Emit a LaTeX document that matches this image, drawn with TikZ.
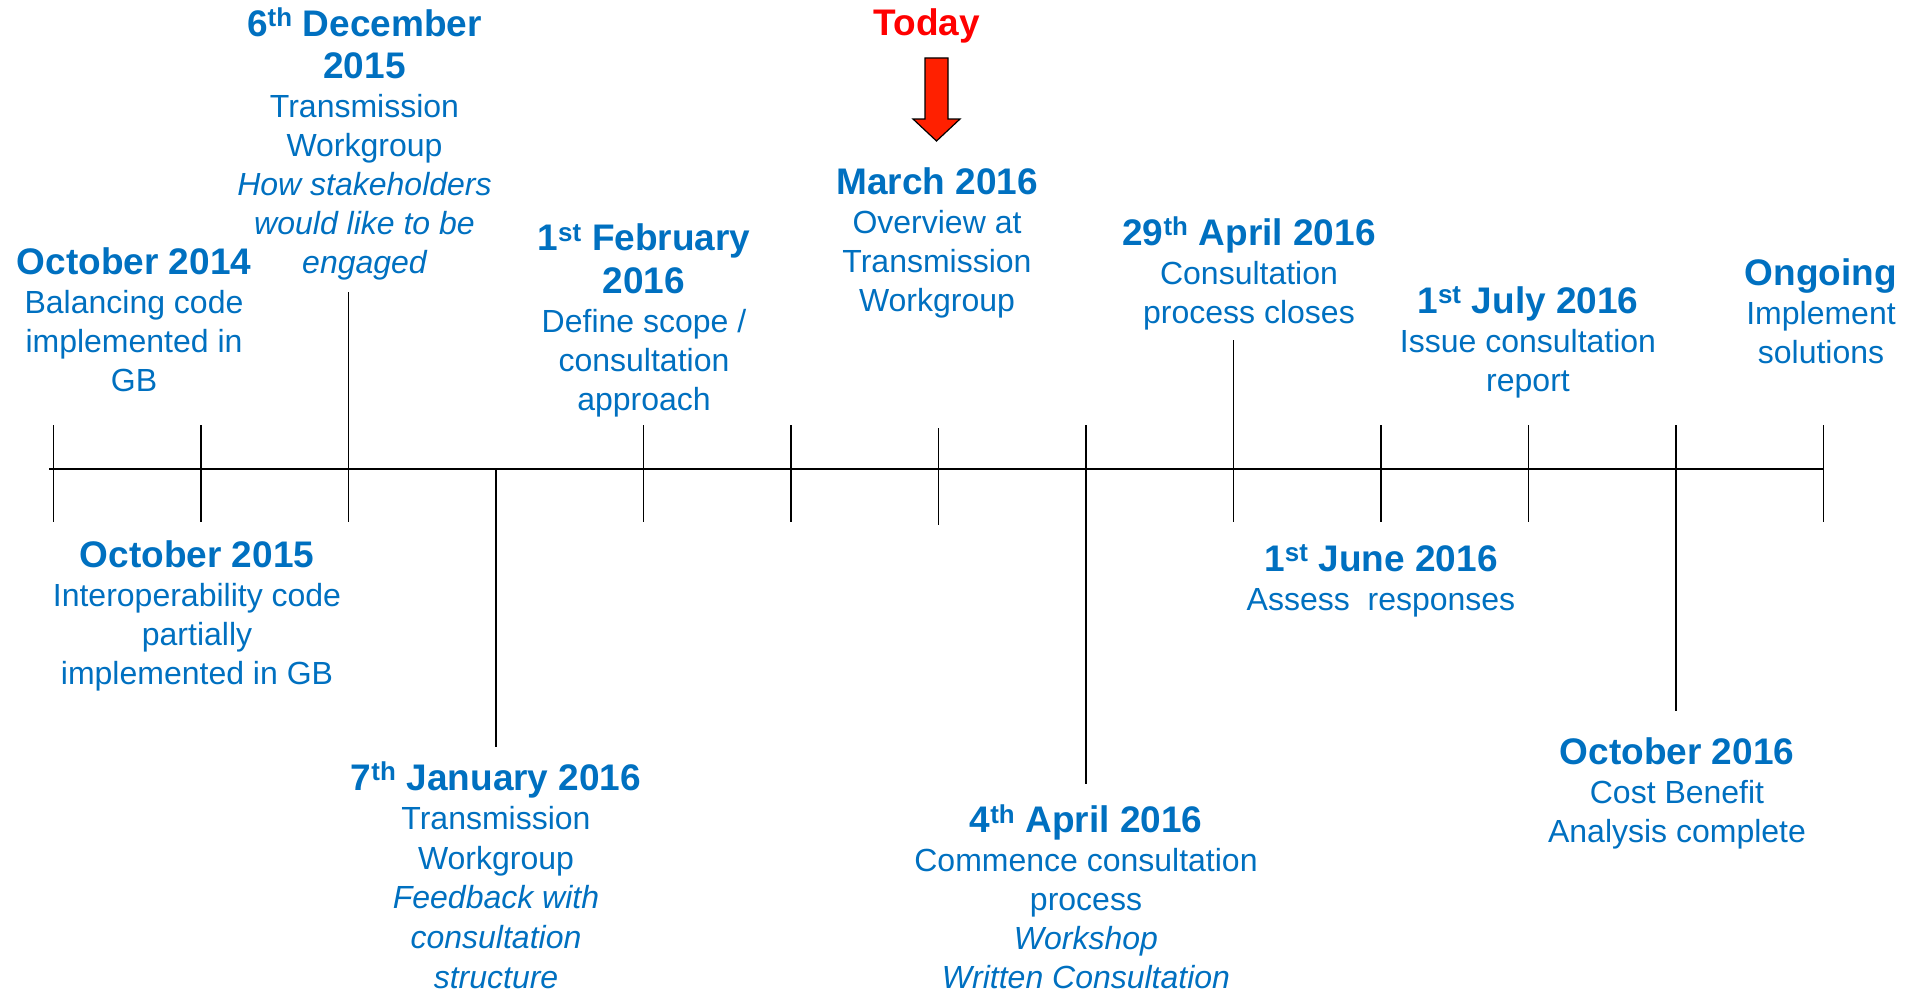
\documentclass[tikz,border=0pt]{standalone}
\usepackage{fontspec}
\setmainfont{Liberation Sans}
\definecolor{ngblue}{RGB}{0,112,192}
\definecolor{todayred}{RGB}{255,0,0}
\definecolor{arrowred}{RGB}{255,32,0}
\newcommand{\datefont}{\fontsize{37}{39}\selectfont\bfseries}

\begin{document}
\begin{tikzpicture}[x=1pt,y=-1pt,
  event/.style={align=center,anchor=base,inner sep=0pt,text=ngblue,
    font=\fontsize{32}{39}\selectfont},
  axis/.style={line width=2.6pt},
  tick/.style={line width=1.8pt}]
  \useasboundingbox (0,0) rectangle (1905,990);

  % time axis and its tick positions
  \coordinate (start) at (49,469);
  \foreach \i in {0,...,12}
    \coordinate (t\i) at ({53.5+147.5*\i},469);
  \draw[axis] (start) -- (t12);
  \foreach \i/\up/\down in {0/44/53,1/44/53,2/177/53,3/0/278,4/44/53,5/44/53,
      6/41/56,7/44/315,8/129/53,9/44/53,10/44/53,11/44/242,12/44/53}
    \draw[tick] ([yshift=\up]t\i) -- ([yshift=-\down]t\i);

  % today marker
  \node[text=todayred,anchor=base,inner sep=0pt,font=\datefont] (today) at (927,36) {Today};
  \draw[fill=arrowred,line width=1.2pt] (925,58) -- (948,58) -- (948,119) -- (960,119)
    -- (936.5,141) -- (913,119) -- (925,119) -- cycle;

  % events above the axis (placed by the baseline of their last line)
  \node[event] (oct14) at (134,391) {\datefont October 2014\\Balancing code\\implemented in\\GB};
  \node[event] (dec15) at (364.5,273.6) {\datefont 6\textsuperscript{th} December\\[3.6pt]\datefont 2015\\
    Transmission\\Workgroup\\\itshape How stakeholders\\\itshape would like to be\\\itshape engaged};
  \node[event] (feb16) at (644,410) {\datefont 1\textsuperscript{st} February\\[3.6pt]\datefont 2016\\
    Define scope /\\consultation\\approach};
  \node[event] (mar16) at (937,311) {\datefont March 2016\\Overview at\\Transmission\\Workgroup};
  \node[event] (apr29) at (1249,323) {\datefont 29\textsuperscript{th} April 2016\\Consultation\\process closes};
  \node[event] (jul16) at (1528,391) {\datefont 1\textsuperscript{st} July 2016\\Issue consultation\\report};
  \node[event] (ongoing) at (1821,363) {\datefont Ongoing\\Implement\\solutions};

  % events below the axis
  \node[event] (oct15) at (197,684) {\datefont October 2015\\Interoperability code\\partially\\implemented in GB};
  \node[event,font=\fontsize{32}{39.6}\selectfont] (jan16) at (496,988) {\datefont 7\textsuperscript{th} January 2016\\
    Transmission\\Workgroup\\\itshape Feedback with\\\itshape consultation\\\itshape structure};
  \node[event] (apr04) at (1086,988.4) {\datefont 4\textsuperscript{th} April 2016\\Commence consultation\\process\\
    \itshape Workshop\\\itshape Written Consultation};
  \node[event] (jun16) at (1381,610) {\datefont 1\textsuperscript{st} June 2016\\Assess~ responses};
  \node[event] (oct16) at (1677,842) {\datefont October 2016\\Cost Benefit\\Analysis complete};
\end{tikzpicture}
\end{document}
